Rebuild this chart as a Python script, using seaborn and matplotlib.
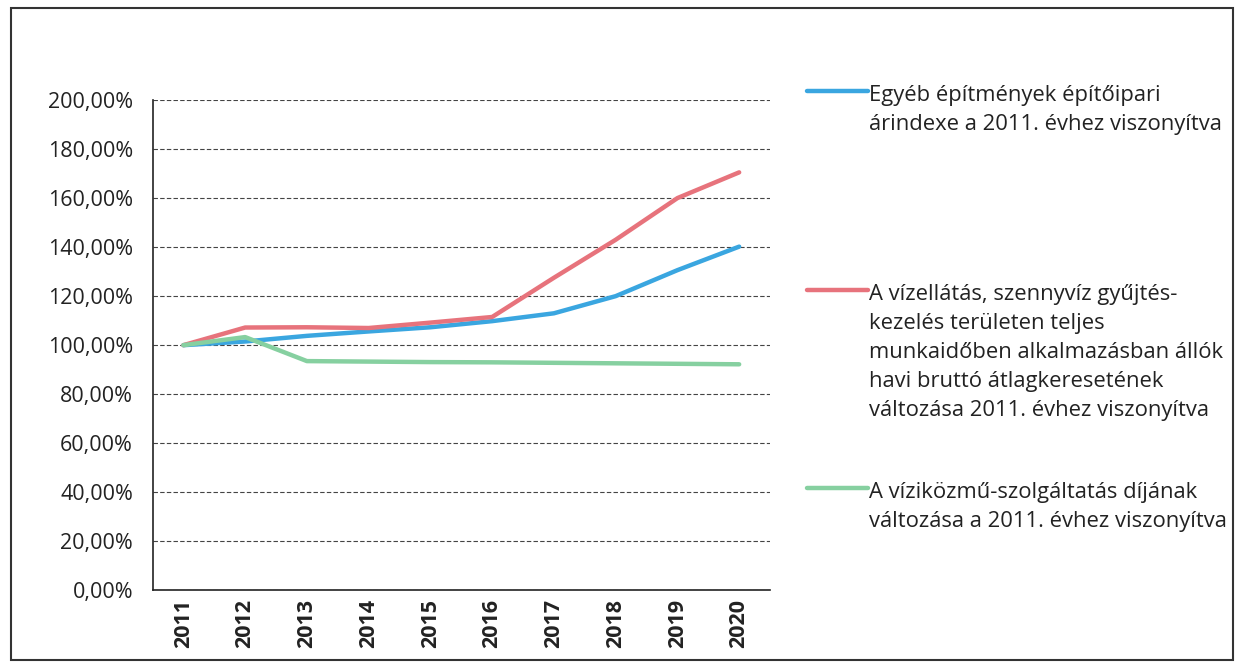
import pandas as pd
import numpy as np
import matplotlib.pyplot as plt
import seaborn as sns
from matplotlib.lines import Line2D
from matplotlib.patches import Rectangle
from matplotlib.ticker import FuncFormatter, FixedLocator

# -------------------------------
# DATA
# -------------------------------
years = ['2011', '2012', '2013', '2014', '2015', '2016', '2017', '2018', '2019', '2020']

epitoipari = [100.0, 101.5, 103.8, 105.6, 107.3, 109.8, 113.0, 120.0, 130.6, 140.2]
kereset = [100.0, 107.2, 107.3, 107.0, 109.2, 111.5, 127.5, 143.0, 160.0, 170.5]
dij = [100.0, 103.3, 93.5, 93.3, 93.1, 93.0, 92.8, 92.6, 92.4, 92.2]

labels = [
    'Egyéb építmények építőipari\nárindexe a 2011. évhez viszonyítva',
    'A vízellátás, szennyvíz gyűjtés-\nkezelés területen teljes\n'
    'munkaidőben alkalmazásban állók\nhavi bruttó átlagkeresetének\n'
    'változása 2011. évhez viszonyítva',
    'A víziközmű-szolgáltatás díjának\nváltozása a 2011. évhez viszonyítva',
]
colors = ['#3aa6e0', '#e7737c', '#86d0a0']

df = pd.DataFrame({
    'Év': years * 3,
    'Érték': epitoipari + kereset + dij,
    'Sorozat': [labels[0]] * 10 + [labels[1]] * 10 + [labels[2]] * 10,
})

# -------------------------------
# PLOT
# -------------------------------
sns.set_style('white')
plt.rcParams['font.family'] = ['Open Sans', 'DejaVu Sans']

fig = plt.figure(figsize=(12.4, 6.67), dpi=100)
ax = fig.add_axes([0.123, 0.115, 0.498, 0.735])

sns.lineplot(data=df, x='Év', y='Érték', hue='Sorozat', palette=colors,
             linewidth=3.2, ax=ax, legend=False, sort=False)

ax.set_ylim(0, 200)
ax.set_xlim(-0.5, 9.5)
ax.yaxis.set_major_locator(FixedLocator(np.arange(0, 201, 20)))
ax.yaxis.set_major_formatter(FuncFormatter(lambda v, p: f'{v:.2f}%'.replace('.', ',')))
ax.grid(axis='y', color='#444444', linestyle=(0, (4, 2)), linewidth=0.8)
ax.set_axisbelow(True)

# category ticks between the years, labels at the centres
ax.set_xticks(np.arange(-0.5, 10, 1))
ax.set_xticklabels([])
ax.set_xticks(np.arange(10), minor=True)
ax.set_xticklabels(years, minor=True, rotation=90, fontsize=15.5, fontweight='bold',
                   color='#222222')
ax.tick_params(axis='x', which='major', direction='out', length=7, width=1, color='#222222')
ax.tick_params(axis='x', which='minor', length=0, pad=6)
ax.tick_params(axis='y', direction='out', length=5, width=1, color='#222222',
               labelsize=15.5, labelcolor='#222222', pad=9)
ax.set_xlabel('')
ax.set_ylabel('')

for side in ['top', 'right']:
    ax.spines[side].set_visible(False)
for side in ['left', 'bottom']:
    ax.spines[side].set_color('#222222')
    ax.spines[side].set_linewidth(1.2)

# legend on the right, keys aligned with the first line of each label
leg_y = [0.864, 0.565, 0.268]
for lab, col, y in zip(labels, colors, leg_y):
    fig.add_artist(Line2D([0.651, 0.7], [y, y], color=col, linewidth=3.2,
                          transform=fig.transFigure))
    fig.text(0.701, y + 0.009, lab, ha='left', va='top', fontsize=15.8,
             linespacing=1.5, color='#222222')

# outer chart frame
fig.add_artist(Rectangle((0.009, 0.01), 0.985, 0.978, fill=False,
                         edgecolor='#333333', linewidth=1.5,
                         transform=fig.transFigure))

fig.savefig('out.png', dpi=100)
